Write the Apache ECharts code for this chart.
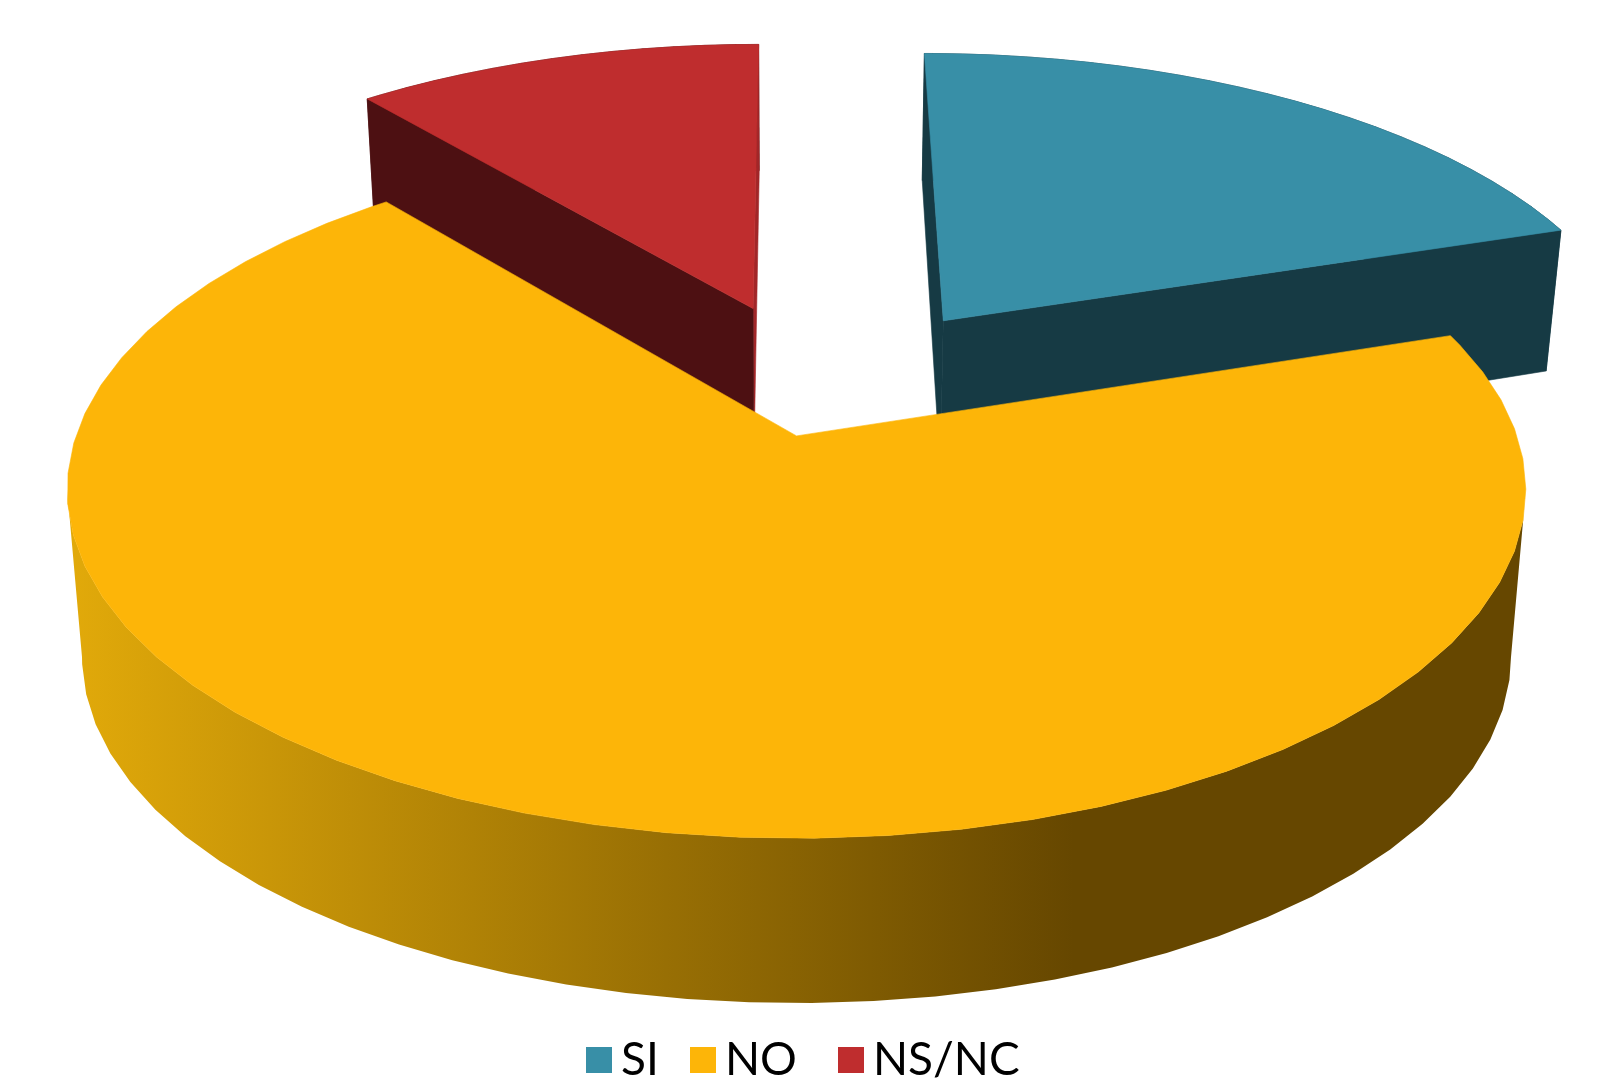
<!DOCTYPE html>
<html><head><meta charset="utf-8">
<style>html,body{margin:0;padding:0;background:#fff}#c{width:1597px;height:1087px}</style>
<script src="https://cdn.jsdelivr.net/npm/echarts@6/dist/echarts.min.js"></script>
</head><body><div id="c"></div>
<script>
// ---- data ----
const categories = ['SI', 'NO', 'NS/NC'];
const values = [20, 69, 11];
const topColors = ['#388FA7', '#FDB508', '#BF2D2E'];
const startSideColors = ['#163A44', '#664700', '#4D1012'];
const endSideColors = ['#163A44', '#664700', '#A12628'];
// slice displacement on the pie's plane (fractions of radius) and slice radius
const explodeX = [0.2150, 0, -0.0640];
const explodeY = [-0.3573, 0, -0.3976];
const sliceRadius = [1.005, 1, 1.004];
const legendLeft = [581, 685, 833];

// ---- projection of the pie disc ----
const CX = 796.5;
const TOP = {cy: 435.9, a: 720.5, b: 340, p: 0.155};
const BOT = {cy: 591.7, a: 704.4, b: 363.6, p: 0.15};
const BOT_FRONT = {cy: 657, a: 714.5, b: 346, p: 0};
const STEP = [3, 5, 3];
const PHASE = 3.8;
const total = values.reduce((a, b) => a + b, 0);
const starts = [];
values.reduce((acc, v, i) => { starts[i] = acc; return acc + v; }, 0);

function project(plane, u, v) {
  const w = 1 - plane.p * v;
  return [CX + plane.a * u / w, plane.cy + plane.b * v / w];
}
function rim(plane, i, deg) {
  const t = deg * Math.PI / 180, r = sliceRadius[i];
  return project(plane, explodeX[i] + r * Math.sin(t), explodeY[i] - r * Math.cos(t));
}
function centre(plane, i) { return project(plane, explodeX[i], explodeY[i]); }
function arcAngles(i, a0, a1) {
  const s = STEP[i], out = [a0];
  let d = Math.ceil((a0 - PHASE) / s) * s + PHASE;
  if (d - a0 < 0.01) d += s;
  for (; d < a1 - 0.01; d += s) out.push(d);
  out.push(a1);
  return out;
}
const noSide = {
  type: 'linear', x: 66, y: 0, x2: 1526, y2: 0, global: true,
  colorStops: [
    {offset: 0, color: '#E2AA0A'},
    {offset: 0.69, color: '#664700'},
    {offset: 1, color: '#664700'}
  ]
};
function poly(points, fill) {
  return {type: 'polygon', shape: {points}, style: {fill, stroke: fill, lineWidth: 0.6}};
}
// The wall of the big slice: only its camera-facing part, as one outline,
// running between the points where top rim and bottom rim turn back.
function frontWall(i) {
  const ext = Math.acos(-TOP.p) * 180 / Math.PI;
  const topPts = arcAngles(i, ext, 360 - ext).map(d => rim(TOP, i, d));
  const botPts = arcAngles(i, 90, 270).map(d => rim(BOT_FRONT, i, d));
  return {type: 'polygon', shape: {points: topPts.concat(botPts.reverse())},
    style: {fill: noSide}};
}
function renderSlice(i) {
  return function (params, api) {
    const value = api.value(0);
    const a0 = starts[i] / total * 360;
    const a1 = a0 + value / total * 360;
    const children = [];
    const cT = centre(TOP, i), cB = centre(BOT, i);
    const angles = arcAngles(i, a0, a1);
    if (i === 1) {
      children.push(frontWall(i));
    } else {
      const botArc = angles.map(d => rim(BOT, i, d));
      const topArc = angles.map(d => rim(TOP, i, d));
      for (let k = 0; k + 1 < angles.length; k++) {
        children.push(poly([topArc[k], topArc[k + 1], botArc[k + 1], botArc[k]], startSideColors[i]));
      }
      children.push(poly([cT, rim(TOP, i, a1), rim(BOT, i, a1), cB], endSideColors[i]));
      children.push(poly([cT, rim(TOP, i, a0), rim(BOT, i, a0), cB], startSideColors[i]));
    }
    // top face
    children.push(poly([cT].concat(angles.map(d => rim(TOP, i, d))), topColors[i]));
    return {type: 'group', children};
  };
}
const zOrder = [1, 3, 2];
const chart = echarts.init(document.getElementById('c'), null, {renderer: 'canvas'});
chart.setOption({
  backgroundColor: '#fff',
  animation: false,
  legend: categories.map((name, i) => ({
    data: [name],
    left: legendLeft[i], top: 1032,
    itemWidth: 26, itemHeight: 26,
    icon: 'rect',
    selectedMode: false,
    textStyle: {fontFamily: 'Lato', fontSize: 46, color: '#000', padding: [0, 0, 4, 4]}
  })),
  series: categories.map((name, i) => ({
    type: 'custom',
    name,
    coordinateSystem: 'none',
    z: zOrder[i],
    silent: true,
    itemStyle: {color: topColors[i]},
    data: [values[i]],
    renderItem: renderSlice(i)
  }))
});
</script></body></html>
